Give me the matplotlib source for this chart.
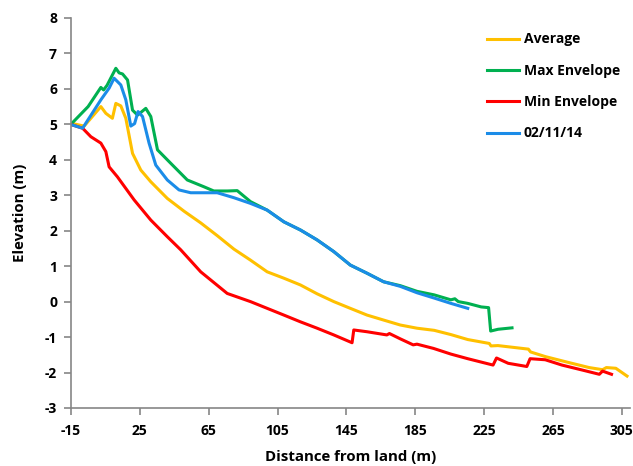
import matplotlib.pyplot as plt

plt.rcParams['font.family'] = ['Open Sans', 'DejaVu Sans']
plt.rcParams['font.weight'] = 'bold'
plt.rcParams['axes.unicode_minus'] = False

# Average profile
avg_x = [-14, -7.3, 2.4, 5.3, 9.1, 11.1, 14, 16.9, 20.8, 25.6, 31.4, 41, 50.7, 60.4,
         70, 79.7, 89.3, 99, 108.7, 118.3, 128, 137.7, 147.3, 157, 166.6, 176.3, 186,
         196, 205.7, 215.5, 228, 229, 233, 250.7, 252, 260.5, 274.3, 286, 293.8,
         296, 301.5, 308]
avg_y = [5.02, 4.95, 5.50, 5.31, 5.17, 5.59, 5.52, 5.17, 4.18, 3.71, 3.38, 2.91, 2.55,
         2.22, 1.86, 1.48, 1.17, 0.84, 0.66, 0.47, 0.22, 0.0, -0.19, -0.38, -0.52,
         -0.66, -0.75, -0.81, -0.93, -1.07, -1.18, -1.25, -1.24, -1.34, -1.42, -1.55,
         -1.72, -1.86, -1.92, -1.86, -1.88, -2.1]

# Max envelope
max_x = [-14, -5, 2.4, 4, 6, 11.1, 13, 15, 17.9, 20.8, 23.7, 26, 28.5, 31.4, 35.3,
         43, 52.6, 62.2, 68, 76, 81.6, 89.3, 99, 108.7, 118.3, 128, 137.7, 147.3, 157,
         166.6, 176.3, 186, 196, 205.7, 208, 210, 215.5, 223.3, 227.6, 228.8, 233.1,
         241.2]
max_y = [5.05, 5.5, 6.04, 5.97, 6.1, 6.58, 6.45, 6.42, 6.25, 5.40, 5.26, 5.35, 5.45,
         5.22, 4.28, 3.9, 3.43, 3.24, 3.12, 3.12, 3.13, 2.82, 2.58, 2.25, 2.02, 1.74,
         1.41, 1.03, 0.8, 0.56, 0.45, 0.29, 0.19, 0.05, 0.08, 0.0, -0.05, -0.15, -0.17,
         -0.83, -0.78, -0.74]

# Min envelope
min_x = [-14, -8.2, -3.4, 2.4, 5.3, 7.2, 12, 21.7, 31.4, 41, 48.8, 60.4, 75.8, 89.3,
         99, 108.7, 118.3, 128, 137.7, 148.3, 149.3, 157, 168.5, 170, 176.3, 183.8,
         186, 195.6, 205.7, 215.5, 230.2, 232.2, 239, 249.8, 251.7, 260.5, 270.2, 282,
         291.9, 293.8, 299]
min_y = [4.98, 4.89, 4.65, 4.47, 4.23, 3.8, 3.52, 2.87, 2.30, 1.83, 1.46, 0.84, 0.23,
         0.0, -0.19, -0.38, -0.57, -0.75, -0.94, -1.16, -0.8, -0.85, -0.94, -0.9,
         -1.05, -1.22, -1.2, -1.32, -1.48, -1.61, -1.79, -1.59, -1.74, -1.83, -1.61,
         -1.64, -1.79, -1.93, -2.05, -1.96, -2.05]

# Survey 02/11/14
svy_x = [-14, -8.2, 2.4, 7.2, 10.1, 14, 16.9, 19.8, 22, 24, 26.6, 30.4, 34.3, 41,
         47.8, 54.6, 70, 79.7, 89.3, 99, 108.7, 118.3, 128, 137.7, 147.3, 157, 166.6,
         176.3, 186, 196, 205.7, 215.5]
svy_y = [4.98, 4.89, 5.69, 6.02, 6.3, 6.11, 5.69, 4.95, 5.02, 5.36, 5.22, 4.47, 3.85,
         3.43, 3.15, 3.07, 3.07, 2.93, 2.77, 2.58, 2.25, 2.02, 1.74, 1.41, 1.03, 0.8,
         0.56, 0.43, 0.25, 0.1, -0.05, -0.19]

fig = plt.figure(figsize=(6.33, 4.66), dpi=100)
ax = fig.add_axes([0.112, 0.1245, 0.884, 0.837])

ax.plot(avg_x, avg_y, color='#FFC000', lw=2.2, label='Average')
ax.plot(max_x, max_y, color='#00B050', lw=2.2, label='Max Envelope')
ax.plot(min_x, min_y, color='#FF0000', lw=2.2, label='Min Envelope')
ax.plot(svy_x, svy_y, color='#1B8CE8', lw=2.2, label='02/11/14')

ax.set_xlim(-15, 310)
ax.set_ylim(-3, 8)
ax.set_xticks(range(-15, 306, 40))
ax.set_yticks(range(-3, 9))

for s in ['top', 'right']:
    ax.spines[s].set_visible(False)
for s in ['left', 'bottom']:
    ax.spines[s].set_color('#868686')
    ax.spines[s].set_linewidth(1.2)
ax.tick_params(colors='#868686', labelcolor='black', length=5, width=1.2,
               labelsize=10)
ax.tick_params(axis='x', pad=6.5)
ax.tick_params(axis='y', pad=5)

ax.set_xlabel('Distance from land (m)', fontsize=10.8, fontweight='bold', labelpad=9)
ax.set_ylabel('Elevation (m)', fontsize=10.8, fontweight='bold', labelpad=13)

leg = ax.legend(loc='upper left', bbox_to_anchor=(0.722, 0.995), frameon=False,
                fontsize=10, handlelength=2.3, handletextpad=0.3, labelspacing=1.25)

plt.savefig('out.png', dpi=100)
